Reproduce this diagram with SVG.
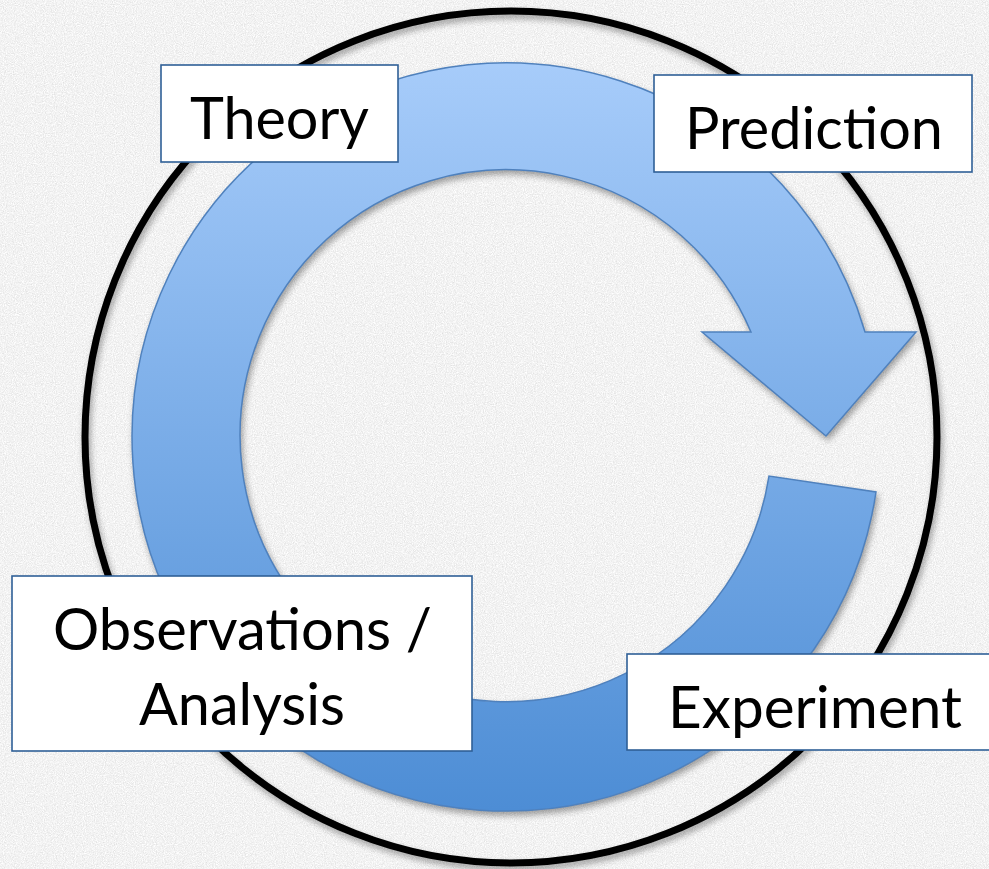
<svg xmlns="http://www.w3.org/2000/svg" width="989" height="869" viewBox="0 0 989 869">
  <defs>
    <style>
      .box { fill: #ffffff; stroke: #2f5f97; stroke-width: 1.6; }
      .lbl { font-family: Lato, "Open Sans", "Liberation Sans", sans-serif; font-size: 58px; fill: #000000; text-anchor: middle; }
    </style>
    <filter id="paper" x="0" y="0" width="100%" height="100%" color-interpolation-filters="sRGB">
      <feTurbulence type="fractalNoise" baseFrequency="0.9" numOctaves="3" seed="4" result="n"/>
      <feColorMatrix in="n" type="matrix" values="0.18 0 0 0 0.86  0.18 0 0 0 0.86  0.18 0 0 0 0.86  0 0 0 0 1"/>
    </filter>
    <filter id="shadow" x="-10%" y="-10%" width="120%" height="125%" color-interpolation-filters="sRGB">
      <feDropShadow dx="2" dy="4" stdDeviation="3" flood-color="#000000" flood-opacity="0.35"/>
    </filter>
    <linearGradient id="ringGrad" gradientUnits="userSpaceOnUse" x1="0" y1="62" x2="0" y2="810">
      <stop offset="0" stop-color="#a7ccfa"/>
      <stop offset="1" stop-color="#4d8dd5"/>
    </linearGradient>
  </defs>

  <rect x="0" y="0" width="989" height="869" fill="#ececec"/>
  <rect x="0" y="0" width="989" height="869" filter="url(#paper)"/>

  <g id="outer-circle">
    <circle cx="511" cy="437" r="426" fill="none" stroke="#000000" stroke-width="7" filter="url(#shadow)"/>
  </g>

  <g id="connectors">
    <path id="cycle-arrow" d="M 876 492 A 374 374 0 1 1 865 332 L 916 332 L 826 436 L 702 332 L 751 332 A 266 266 0 1 0 769 476 Z" fill="url(#ringGrad)" stroke="#4f81bd" stroke-width="1.5" stroke-linejoin="miter" filter="url(#shadow)"/>
  </g>

  <g id="theory">
    <rect class="box" x="161" y="65" width="237" height="97"/>
    <text class="lbl" x="279.5" y="139" textLength="179" lengthAdjust="spacingAndGlyphs">Theory</text>
  </g>

  <g id="prediction">
    <rect class="box" x="654" y="75" width="318" height="97"/>
    <text class="lbl" x="814" y="149" textLength="258" lengthAdjust="spacingAndGlyphs">Prediction</text>
  </g>

  <g id="observations">
    <rect class="box" x="12" y="576" width="460" height="175"/>
    <text class="lbl" x="242.5" y="650" textLength="379" lengthAdjust="spacingAndGlyphs">Observations /</text>
    <text class="lbl" x="242" y="725" textLength="206" lengthAdjust="spacingAndGlyphs">Analysis</text>
  </g>

  <g id="experiment">
    <rect class="box" x="627" y="654" width="376" height="96"/>
    <text class="lbl" x="815" y="728" textLength="294" lengthAdjust="spacingAndGlyphs">Experiment</text>
  </g>
</svg>
